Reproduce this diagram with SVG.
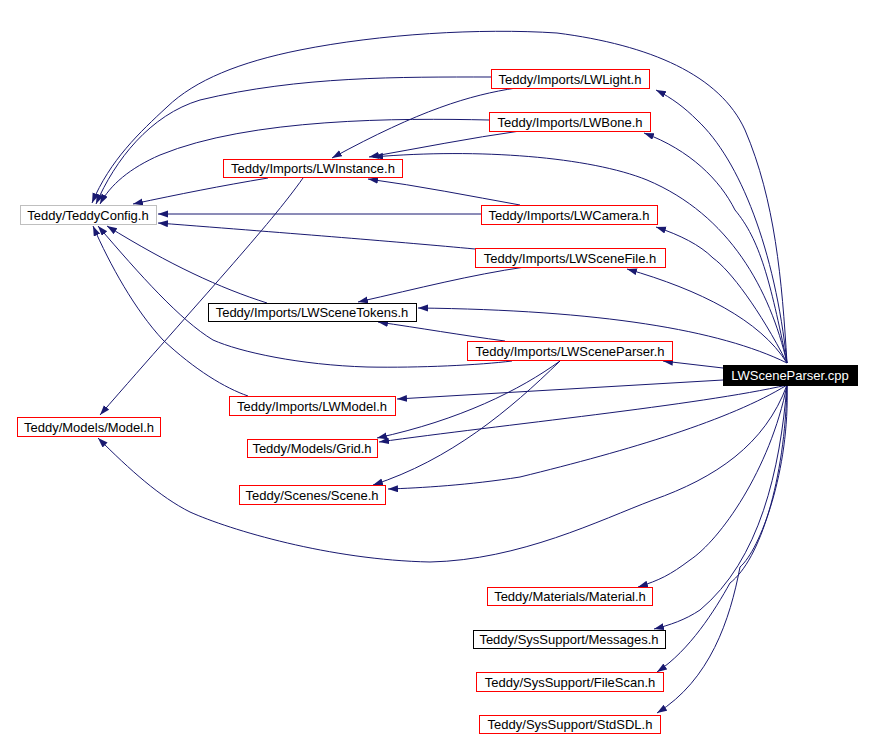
<svg xmlns="http://www.w3.org/2000/svg" width="873" height="740" viewBox="0 0 873 740">
<defs>
<marker id="ah" markerWidth="11" markerHeight="8" refX="10" refY="3.5" orient="auto" markerUnits="userSpaceOnUse">
<path d="M0,0 L10,3.5 L0,7 z" fill="#191970"/>
</marker>
<style>
.e{fill:none;stroke:#191970;stroke-width:1;marker-end:url(#ah)}
.n rect{fill:#fff;stroke:#ff0000;stroke-width:1}
.n.k rect{stroke:#000}
.n.g rect{stroke:#bfbfbf}
.n.m rect{fill:#000;stroke:#000}
.n text{font-family:"Liberation Sans",Arial,sans-serif;font-size:13px;fill:#000;text-anchor:middle}
.n.m text{fill:#fff}
</style>
</defs>
<rect width="873" height="740" fill="#fff"/>
<g id="edges">
<path class="e" d="M787,363 C782,280 775,200 745,130 C720,75 650,45 557,33 C480,28 380,34 300,50 C240,62 195,80 167,107 C140,132 110,160 92,203"/>
<path class="e" d="M491,77 C400,77 300,76 200,100 C150,115 115,160 96,204"/>
<path class="e" d="M489,120 C400,118 250,118 160,155 C130,168 110,185 100,204"/>
<path class="e" d="M268,178 C220,186 180,194 133,204"/>
<path class="e" d="M481,214 L158,214"/>
<path class="e" d="M475,249 C400,242 300,234 158,223"/>
<path class="e" d="M267,303 C220,288 170,265 107,226"/>
<path class="e" d="M512,361 C480,365 420,368 367,367 C300,365 240,352 213,340 C180,320 140,275 98,226"/>
<path class="e" d="M248,396 C225,388 195,370 163,340 C135,310 110,265 93,226"/>
<path class="e" d="M516,88 C470,95 420,110 332,158"/>
<path class="e" d="M520,131 C470,138 420,148 369,157"/>
<path class="e" d="M787,363 C770,290 730,215 647,180 C590,157 480,148 373,157"/>
<path class="e" d="M520,205 C470,196 420,186 368,179"/>
<path class="e" d="M303,178 C270,225 200,300 100,415"/>
<path class="e" d="M525,267 C470,275 420,288 358,302"/>
<path class="e" d="M787,363 C760,320 700,290 627,269"/>
<path class="e" d="M787,363 C720,330 600,310 418,308"/>
<path class="e" d="M505,341 C460,335 420,328 378,322"/>
<path class="e" d="M723,368 L663,361"/>
<path class="e" d="M723,380 L397,399"/>
<path class="e" d="M787,385 C700,405 500,425 379,442"/>
<path class="e" d="M560,361 C520,390 460,420 377,438"/>
<path class="e" d="M560,361 C510,410 450,460 373,485"/>
<path class="e" d="M787,385 C730,420 630,450 520,477 C470,485 420,488 388,489"/>
<path class="e" d="M787,385 C765,445 715,478 653,500 C600,520 520,560 430,562 C330,560 230,530 190,512 C160,497 130,470 98,438"/>
<path class="e" d="M787,385 C770,470 720,540 690,560 C670,575 660,580 638,587"/>
<path class="e" d="M787,385 C780,470 760,560 700,610 C685,620 670,625 654,629"/>
<path class="e" d="M787,385 C785,480 760,560 730,583 C715,610 690,650 657,672"/>
<path class="e" d="M787,385 C790,470 760,550 740,567 C730,620 710,680 657,713"/>
<path class="e" d="M787,363 C775,250 740,160 697,120 C685,108 672,98 656,90"/>
<path class="e" d="M787,363 C770,280 760,240 735,210 C720,180 690,150 644,133"/>
<path class="e" d="M787,363 C760,310 730,270 713,258 C700,245 680,235 656,227"/>
</g>
<g id="n_cpp" class="n m"><rect x="723.5" y="365.5" width="134" height="20"/><text x="790" y="380">LWSceneParser.cpp</text></g>
<g id="n_teddyconfig" class="n g"><rect x="20.5" y="205.5" width="136" height="19"/><text x="88" y="220">Teddy/TeddyConfig.h</text></g>
<g id="n_lwinstance" class="n"><rect x="223.5" y="159.5" width="179" height="18"/><text x="313" y="173">Teddy/Imports/LWInstance.h</text></g>
<g id="n_lwlight" class="n"><rect x="491.5" y="69.5" width="158" height="19"/><text x="570" y="84">Teddy/Imports/LWLight.h</text></g>
<g id="n_lwbone" class="n"><rect x="489.5" y="112.5" width="161" height="19"/><text x="570" y="127">Teddy/Imports/LWBone.h</text></g>
<g id="n_lwcamera" class="n"><rect x="481.5" y="205.5" width="176" height="19"/><text x="569" y="220">Teddy/Imports/LWCamera.h</text></g>
<g id="n_lwscenefile" class="n"><rect x="475.5" y="248.5" width="190" height="19"/><text x="570" y="263">Teddy/Imports/LWSceneFile.h</text></g>
<g id="n_lwscenetokens" class="n k"><rect x="208.5" y="303.5" width="208" height="18"/><text x="312" y="317">Teddy/Imports/LWSceneTokens.h</text></g>
<g id="n_lwsceneparser" class="n"><rect x="467.5" y="341.5" width="205" height="19"/><text x="570" y="356">Teddy/Imports/LWSceneParser.h</text></g>
<g id="n_lwmodel" class="n"><rect x="229.5" y="396.5" width="166" height="19"/><text x="312" y="411">Teddy/Imports/LWModel.h</text></g>
<g id="n_model" class="n"><rect x="17.5" y="417.5" width="143" height="19"/><text x="89" y="432">Teddy/Models/Model.h</text></g>
<g id="n_grid" class="n"><rect x="247.5" y="439.5" width="130" height="18"/><text x="312" y="453">Teddy/Models/Grid.h</text></g>
<g id="n_scene" class="n"><rect x="239.5" y="485.5" width="146" height="19"/><text x="312" y="500">Teddy/Scenes/Scene.h</text></g>
<g id="n_material" class="n"><rect x="487.5" y="587.5" width="165" height="18"/><text x="570" y="601">Teddy/Materials/Material.h</text></g>
<g id="n_messages" class="n k"><rect x="473.5" y="630.5" width="192" height="18"/><text x="569" y="644">Teddy/SysSupport/Messages.h</text></g>
<g id="n_filescan" class="n"><rect x="476.5" y="672.5" width="187" height="19"/><text x="570" y="687">Teddy/SysSupport/FileScan.h</text></g>
<g id="n_stdsdl" class="n"><rect x="479.5" y="715.5" width="181" height="18"/><text x="570" y="729">Teddy/SysSupport/StdSDL.h</text></g>
</svg>
